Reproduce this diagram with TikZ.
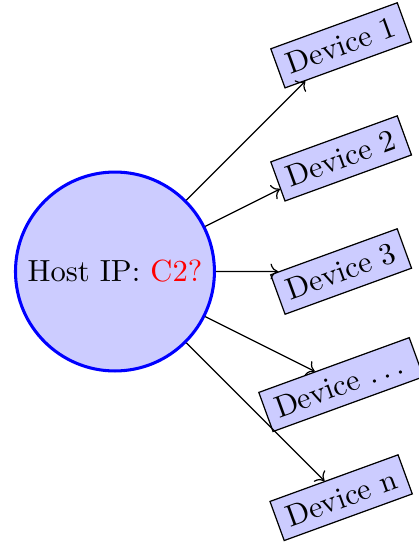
\documentclass[tikz,border=0pt]{standalone}
\usepackage{xcolor}
\usepackage{tikz}
\usetikzlibrary{arrows.meta}

\begin{document}
\begin{tikzpicture}[device/.style={draw, fill=blue!20, rotate=20}]
        \useasboundingbox (-37.6pt,-88.8pt) rectangle (99.4pt,88.8pt);
        \node [circle, draw=blue, line width=1pt, fill=blue!20] (host) at (0,0) {Host IP: \textcolor{red}{C2?}};
        \node [device] (d1) at (2.6,2.6) {Device 1};
        \node [device] (d2) at (2.6,1.3) {Device 2};
        \node [device] (d3) at (2.6,0) {Device 3};
        \node [device] (d4) at (2.6,-1.3) {Device .\,.\,.\,};
        \node [device] (dn) at (2.6,-2.6) {Device n};
        \draw [->] (host) -- (d1);
        \draw [->] (host) -- (d2);
        \draw [->] (host) -- (d3);
        \draw [->] (host) -- (d4);
        \draw [->] (host) -- (dn);
\end{tikzpicture}
\end{document}
